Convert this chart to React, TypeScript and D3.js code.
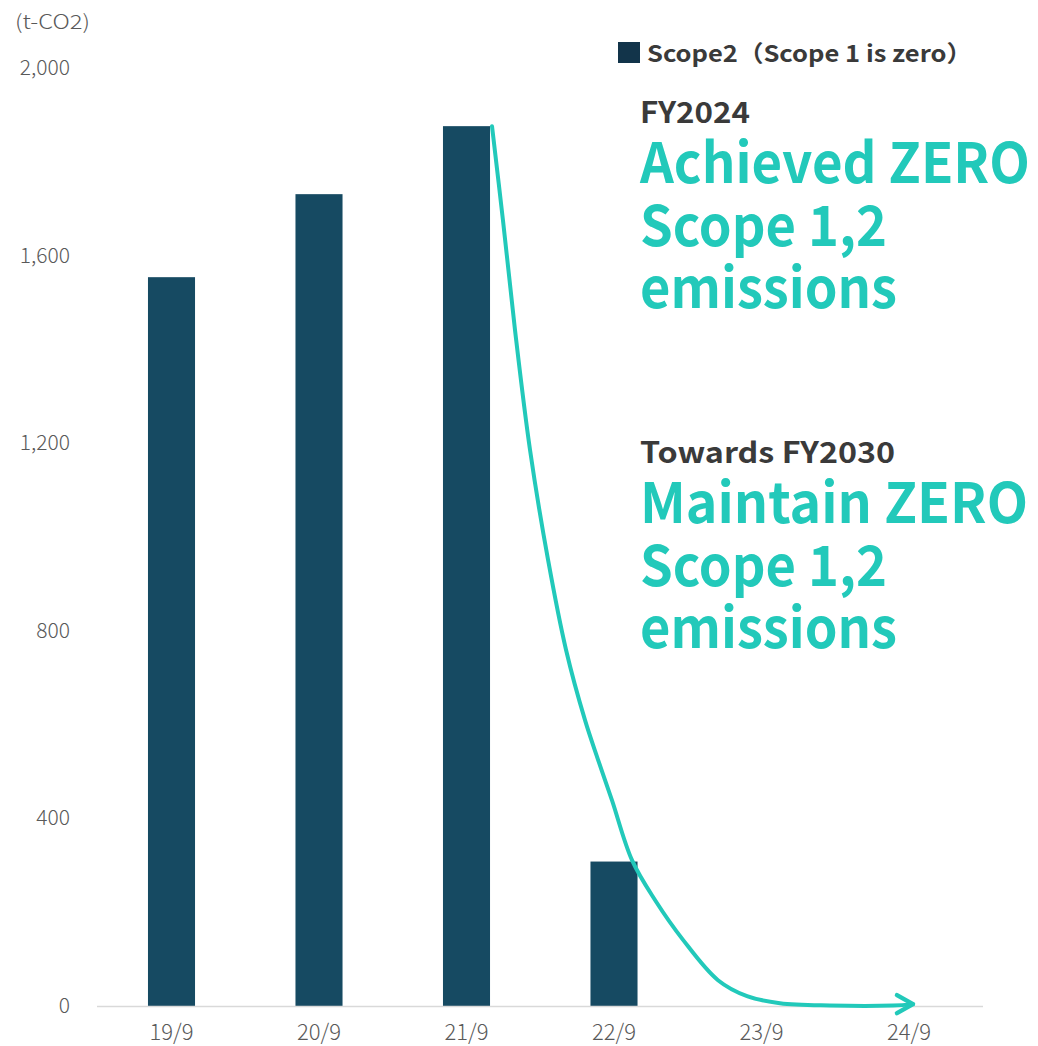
import React from "react";
import * as d3 from "d3";

const categories = ["19/9", "20/9", "21/9", "22/9", "23/9", "24/9"];
const scope2Values = [1554, 1731, 1876, 308, 0, 0];
const yTicks = [0, 400, 800, 1200, 1600, 2000];

// Trend arrow path (category index position, t-CO2 value)
const trendIndex = [2.173, 2.247, 2.329, 2.431, 2.553, 2.675, 2.803, 2.892, 2.986, 3.122, 3.278, 3.468, 3.705, 3.902, 4.125, 4.464, 4.892, 5.027];
const trendValue = [1876, 1676, 1441, 1185, 951, 759, 610, 525, 439, 311, 226, 141, 55, 21, 6, 1, 1, 4];

const legendLabel = "Scope2（Scope 1 is zero）";
const unitLabel = "(t-CO2)";
const block1Head = "FY2024";
const block1Lines = ["Achieved ZERO", "Scope 1,2", "emissions"];
const block2Head = "Towards FY2030";
const block2Lines = ["Maintain ZERO", "Scope 1,2", "emissions"];
const block1Widths = [390, 247, 257];
const block2Widths = [388, 247, 257];

const W = 1038;
const H = 1046;
const FONT = "'Noto Sans CJK JP', 'Noto Sans', sans-serif";
const TEAL = "#22C9BA";
const BAR = "#164A62";
const DARK = "#3A3A3A";
const GRAY = "#595959";

export default function App() {
  const x = d3.scaleBand<string>().domain(categories).range([97.75, 982.75]).paddingInner(0.681).paddingOuter(0.3405);
  const y = d3.scaleLinear().domain([0, 2000]).range([1006, 68]);
  const step = x.step();
  const x0 = (x(categories[0]) as number) + x.bandwidth() / 2;
  const xi = (i: number) => x0 + i * step;

  const pts: [number, number][] = trendIndex.map((v, i) => [xi(v), y(trendValue[i])]);
  const line = d3.line().curve(d3.curveCatmullRom.alpha(0.5));
  const path = line(pts) || "";
  const tip = pts[pts.length - 1];

  return (
    <svg width={W} height={H} style={{ position: "absolute", left: 0, top: 0, background: "#fff" }} fontFamily={FONT}>
      <rect x={0} y={0} width={W} height={H} fill="#fff" />
      <text x={15} y={29} fontSize={20} fill={GRAY} fontWeight={300} textLength={75} lengthAdjust="spacingAndGlyphs">{unitLabel}</text>
      {yTicks.map((t) => (
        <text key={t} x={70} y={y(t) + 7} textAnchor="end" fontSize={21} fill={GRAY} fontWeight={300}>
          {d3.format(",")(t)}
        </text>
      ))}
      {categories.map((c, i) => (
        <rect key={c} x={x(c)} y={y(scope2Values[i])} width={x.bandwidth()} height={y(0) - y(scope2Values[i])} fill={BAR} />
      ))}
      <line x1={97} x2={983} y1={1006.5} y2={1006.5} stroke="#d9d9d9" strokeWidth={1.5} />
      {categories.map((c) => (
        <text key={c} x={(x(c) as number) + x.bandwidth() / 2} y={1040} textAnchor="middle" fontSize={22} fill={GRAY} fontWeight={300}>
          {c}
        </text>
      ))}
      <path d={path} fill="none" stroke={TEAL} strokeWidth={4} strokeLinecap="round" strokeLinejoin="round" />
      <polyline
        points={`${tip[0] - 16},${tip[1] - 9} ${tip[0]},${tip[1]} ${tip[0] - 16},${tip[1] + 9}`}
        fill="none" stroke={TEAL} strokeWidth={4.5} strokeLinecap="round" strokeLinejoin="round"
      />
      <rect x={618} y={42} width={22} height={21} fill="#12344A" />
      <text x={647} y={62} fontSize={23} fontWeight={700} fill={DARK} textLength={325} lengthAdjust="spacingAndGlyphs">{legendLabel}</text>
      <text x={640} y={123} fontSize={29} fontWeight={700} fill={DARK} textLength={110} lengthAdjust="spacingAndGlyphs">{block1Head}</text>
      {block1Lines.map((l, i) => (
        <text key={i} x={640} y={183 + i * 62.5} fontSize={56} fontWeight={700} fill={TEAL} textLength={block1Widths[i]} lengthAdjust="spacingAndGlyphs">{l}</text>
      ))}
      <text x={640} y={463} fontSize={29} fontWeight={700} fill={DARK} textLength={255} lengthAdjust="spacingAndGlyphs">{block2Head}</text>
      {block2Lines.map((l, i) => (
        <text key={i} x={640} y={523 + i * 62.5} fontSize={56} fontWeight={700} fill={TEAL} textLength={block2Widths[i]} lengthAdjust="spacingAndGlyphs">{l}</text>
      ))}
    </svg>
  );
}
